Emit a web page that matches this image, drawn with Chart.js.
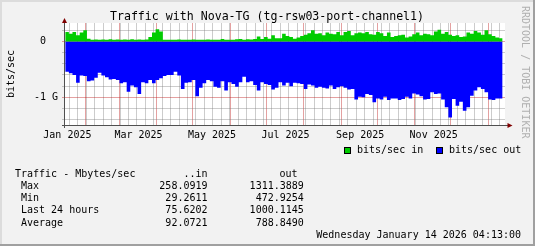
<!DOCTYPE html>
<html>
<head>
<meta charset="utf-8">
<script src="https://cdn.jsdelivr.net/npm/chart.js@4.4.1/dist/chart.umd.min.js"></script>
<style>
  html, body { margin: 0; padding: 0; background: #f2f2f2; }
  canvas { display: block; }
</style>
</head>
<body>
<canvas id="traffic" width="535" height="246"></canvas>
<script>
// one reading every 3 days, first one on 15 Jan 2025 (day 14 of 2025), Gbit/s
var startDay = 14;
var stepDays = 3;

var inGbps = [
    0.12, 0.17, 0.14, 0.17, 0.11, 0.16, 0.20, 0.05, 0.03, 0.035,
    0.03, 0.035, 0.03, 0.04, 0.03, 0.035, 0.03, 0.035, 0.03, 0.04,
    0.03, 0.035, 0.03, 0.035, 0.08, 0.16, 0.22, 0.18, 0.03, 0.03,
    0.03, 0.03, 0.035, 0.03, 0.03, 0.03, 0.035, 0.03, 0.03, 0.03,
    0.035, 0.03, 0.03, 0.03, 0.045, 0.03, 0.03, 0.03, 0.04, 0.045,
    0.03, 0.04, 0.035, 0.045, 0.09, 0.045, 0.08, 0.05, 0.11, 0.06,
    0.06, 0.14, 0.10, 0.08, 0.05, 0.07, 0.10, 0.12, 0.15, 0.20,
    0.14, 0.15, 0.11, 0.16, 0.14, 0.13, 0.17, 0.11, 0.17, 0.19,
    0.11, 0.15, 0.16, 0.15, 0.17, 0.13, 0.12, 0.17, 0.15, 0.10,
    0.16, 0.08, 0.10, 0.11, 0.12, 0.07, 0.09, 0.13, 0.16, 0.11,
    0.14, 0.13, 0.11, 0.18, 0.21, 0.14, 0.17, 0.12, 0.10, 0.11,
    0.08, 0.09, 0.16, 0.14, 0.19, 0.16, 0.12, 0.20, 0.13, 0.10,
    0.07, 0.06
];

var outGbps = [
    0.55, 0.54, 0.57, 0.60, 0.74, 0.61, 0.62, 0.71, 0.70, 0.65,
    0.56, 0.61, 0.64, 0.68, 0.67, 0.69, 0.75, 0.73, 0.90, 0.79,
    0.82, 0.94, 0.73, 0.75, 0.69, 0.75, 0.69, 0.66, 0.62, 0.60,
    0.60, 0.54, 0.61, 0.85, 0.74, 0.73, 0.69, 0.98, 0.83, 0.75,
    0.69, 0.71, 0.81, 0.83, 0.71, 0.88, 0.73, 0.76, 0.81, 0.73,
    0.63, 0.73, 0.71, 0.78, 0.88, 0.73, 0.76, 0.78, 0.86, 0.83,
    0.73, 0.79, 0.74, 0.80, 0.74, 0.75, 0.76, 0.85, 0.77, 0.79,
    0.83, 0.81, 0.83, 0.84, 0.79, 0.85, 0.82, 0.80, 0.83, 0.86,
    0.85, 1.04, 0.99, 1.00, 0.94, 0.96, 1.09, 1.02, 1.04, 0.99,
    1.05, 1.02, 1.02, 1.05, 1.03, 0.99, 1.02, 0.93, 0.95, 0.98,
    1.04, 1.03, 0.91, 0.94, 0.93, 1.04, 1.18, 1.36, 1.03, 1.15,
    1.08, 1.24, 1.18, 0.97, 0.88, 0.82, 0.85, 0.91, 1.04, 1.05,
    1.02, 1.02
];

var yTicks = [-1.4, -1.2, -1, -0.8, -0.6, -0.4, -0.2, 0, 0.2];
var yLabelAt = { '0': '0  ', '-1': '-1 G' };
var labelMonths = [0, 2, 4, 6, 8, 10];
var monthNames = ['Jan 2025', 'Mar 2025', 'May 2025', 'Jul 2025', 'Sep 2025', 'Nov 2025'];

var statNames = ['Max', 'Min', 'Last 24 hours', 'Average'];
var statIn = [258.0919, 29.2611, 75.6202, 92.0721];
var statOut = [1311.3889, 472.9254, 1000.1145, 788.8490];
var stampText = 'Wednesday January 14 2026 04:13:00';

var MONO = "'DejaVu Sans Mono', 'Liberation Mono', monospace";
var minorGrid = 'rgba(128,128,128,0.4)';
var majorGrid = 'rgba(190,30,30,0.42)';

function dayOf(y, m, d) {
    return (Date.UTC(y, m, d) - Date.UTC(2025, 0, 1)) / 864e5;
}

var xMin = 13.8, xMax = 379;

// x grid: months (red) and weeks (grey), labels sit in the middle of the month
var monthDays = [];
for (var m = 1; m <= 12; m++) monthDays.push(dayOf(2025, m, 1));
var weekDays = [];
for (var w = dayOf(2025, 0, 18) + 0.5; w < xMax; w += 7) weekDays.push(w);
var labelDays = {};
labelMonths.forEach(function(m, i) {
    labelDays[String(dayOf(2025, m, 1) + 15.8)] = monthNames[i];
});

function toPoints(vals, sign) {
    return vals.map(function(v, i) {
        return { x: startDay + i * stepDays, y: sign * v };
    });
}

var rrdPlugin = {
    id: 'rrdFrame',
    beforeDraw: function(chart) {
        var ctx = chart.ctx, a = chart.chartArea;
        ctx.save();
        ctx.fillStyle = '#f2f2f2';
        ctx.fillRect(0, 0, chart.width, chart.height);
        ctx.fillStyle = '#ffffff';
        ctx.fillRect(a.left, a.top, a.right - a.left, a.bottom - a.top);
        ctx.restore();
    },
    afterDraw: function(chart) {
        var ctx = chart.ctx, a = chart.chartArea;
        ctx.save();

        // axis lines + arrows
        ctx.strokeStyle = '#505050';
        ctx.lineWidth = 1;
        ctx.beginPath();
        ctx.moveTo(a.left - 0.5, a.top - 1);
        ctx.lineTo(a.left - 0.5, a.bottom + 3);
        ctx.moveTo(a.left - 3, a.bottom + 0.5);
        ctx.lineTo(a.right + 3, a.bottom + 0.5);
        ctx.stroke();
        ctx.fillStyle = '#800000';
        ctx.beginPath();
        ctx.moveTo(a.left - 3, a.top);
        ctx.lineTo(a.left + 2, a.top);
        ctx.lineTo(a.left - 0.5, a.top - 5);
        ctx.closePath();
        ctx.fill();
        ctx.beginPath();
        ctx.moveTo(a.right + 2.5, a.bottom - 2);
        ctx.lineTo(a.right + 2.5, a.bottom + 3);
        ctx.lineTo(a.right + 7.5, a.bottom + 0.5);
        ctx.closePath();
        ctx.fill();

        // frame
        ctx.fillStyle = '#dcdcdc';
        ctx.fillRect(0, 0, chart.width, 2);
        ctx.fillRect(0, 0, 2, chart.height);
        ctx.fillStyle = '#a0a0a0';
        ctx.fillRect(0, chart.height - 2, chart.width, 2);
        ctx.fillRect(chart.width - 2, 0, 2, chart.height);

        // title
        ctx.fillStyle = '#000';
        ctx.textBaseline = 'middle';
        ctx.textAlign = 'center';
        ctx.font = '11.6px ' + MONO;
        ctx.fillText('Traffic with Nova-TG (tg-rsw03-port-channel1)', 267, 16.7);

        ctx.font = '10px ' + MONO;

        // side watermark
        ctx.save();
        ctx.translate(525, 6);
        ctx.rotate(Math.PI / 2);
        ctx.textAlign = 'left';
        ctx.fillStyle = '#b0b0b0';
        ctx.fillText('RRDTOOL / TOBI OETIKER', 0, 0);
        ctx.restore();

        // legend
        var legendX = [344.5, 436.5];
        ctx.textAlign = 'left';
        chart.data.datasets.forEach(function(ds, i) {
            ctx.fillStyle = ds.backgroundColor;
            ctx.fillRect(legendX[i], 147.5, 6, 6);
            ctx.strokeStyle = '#000';
            ctx.strokeRect(legendX[i], 147.5, 6, 6);
            ctx.fillStyle = '#000';
            ctx.fillText(ds.label, legendX[i] + 12.5, 150.5);
        });

        // stats table
        ctx.fillText('Traffic - Mbytes/sec', 15, 174.4);
        ctx.textAlign = 'right';
        ctx.fillText('..in', 207.5, 174.4);
        ctx.fillText('out', 297.6, 174.4);
        statNames.forEach(function(name, i) {
            var y = 186.3 + i * 12.3;
            ctx.textAlign = 'left';
            ctx.fillText(name, 21, y);
            ctx.textAlign = 'right';
            ctx.fillText(statIn[i].toFixed(4), 207.5, y);
            ctx.fillText(statOut[i].toFixed(4), 303.8, y);
        });
        ctx.fillText(stampText, 521, 235.8);
        ctx.restore();
    }
};

new Chart(document.getElementById('traffic'), {
    type: 'line',
    data: {
        datasets: [
            {
                label: 'bits/sec in',
                data: toPoints(inGbps, 1),
                backgroundColor: '#00cc00',
                borderColor: 'rgba(0,0,0,0)',
                borderWidth: 0,
                pointRadius: 0,
                stepped: 'after',
                fill: 'origin'
            },
            {
                label: 'bits/sec out',
                data: toPoints(outGbps, -1),
                backgroundColor: '#0000ff',
                borderColor: 'rgba(0,0,0,0)',
                borderWidth: 0,
                pointRadius: 0,
                stepped: 'after',
                fill: 'origin'
            }
        ]
    },
    options: {
        responsive: false,
        animation: false,
        devicePixelRatio: 1,
        layout: { padding: { top: 23, right: 30, bottom: 101, left: 0 } },
        plugins: {
            legend: { display: false },
            tooltip: { enabled: false },
            title: { display: false }
        },
        scales: {
            x: {
                type: 'linear',
                min: xMin,
                max: xMax,
                z: 1,
                border: { display: false },
                afterFit: function(s) { s.height = 20; },
                afterBuildTicks: function(s) {
                    var vals = monthDays.concat(weekDays).concat(Object.keys(labelDays).map(Number));
                    vals.sort(function(p, q) { return p - q; });
                    s.ticks = vals.map(function(v) { return { value: v }; });
                },
                grid: {
                    drawTicks: false,
                    borderDash: [1, 1],
                    color: function(c) {
                        var v = c.tick && c.tick.value;
                        if (monthDays.indexOf(v) >= 0) return majorGrid;
                        if (weekDays.indexOf(v) >= 0) return minorGrid;
                        return 'rgba(0,0,0,0)';
                    }
                },
                ticks: {
                    autoSkip: false,
                    maxRotation: 0,
                    minRotation: 0,
                    padding: 4,
                    color: '#000',
                    font: { family: MONO, size: 10 },
                    callback: function(v) { return labelDays[String(v)] || ''; }
                }
            },
            y: {
                min: -1.496,
                max: 0.3315,
                z: 1,
                border: { display: false },
                afterFit: function(s) { s.width = 65; },
                afterBuildTicks: function(s) {
                    s.ticks = yTicks.map(function(v) { return { value: v }; });
                },
                grid: {
                    drawTicks: true,
                    tickLength: 3,
                    borderDash: [1, 1],
                    color: function(c) {
                        var v = c.tick ? c.tick.value : 1;
                        return (Math.abs(v) < 1e-9 || Math.abs(v + 1) < 1e-9) ? majorGrid : minorGrid;
                    }
                },
                ticks: {
                    autoSkip: false,
                    padding: 4,
                    color: '#000',
                    font: { family: MONO, size: 10 },
                    callback: function(v) {
                        var k = String(Math.round(v * 10) / 10);
                        return yLabelAt[k] || '';
                    }
                },
                title: {
                    display: true,
                    text: 'bits/sec',
                    color: '#000',
                    font: { family: MONO, size: 10, lineHeight: 1.2 },
                    padding: { top: 5, bottom: 0 }
                }
            }
        }
    },
    plugins: [rrdPlugin]
});
</script>
</body>
</html>
